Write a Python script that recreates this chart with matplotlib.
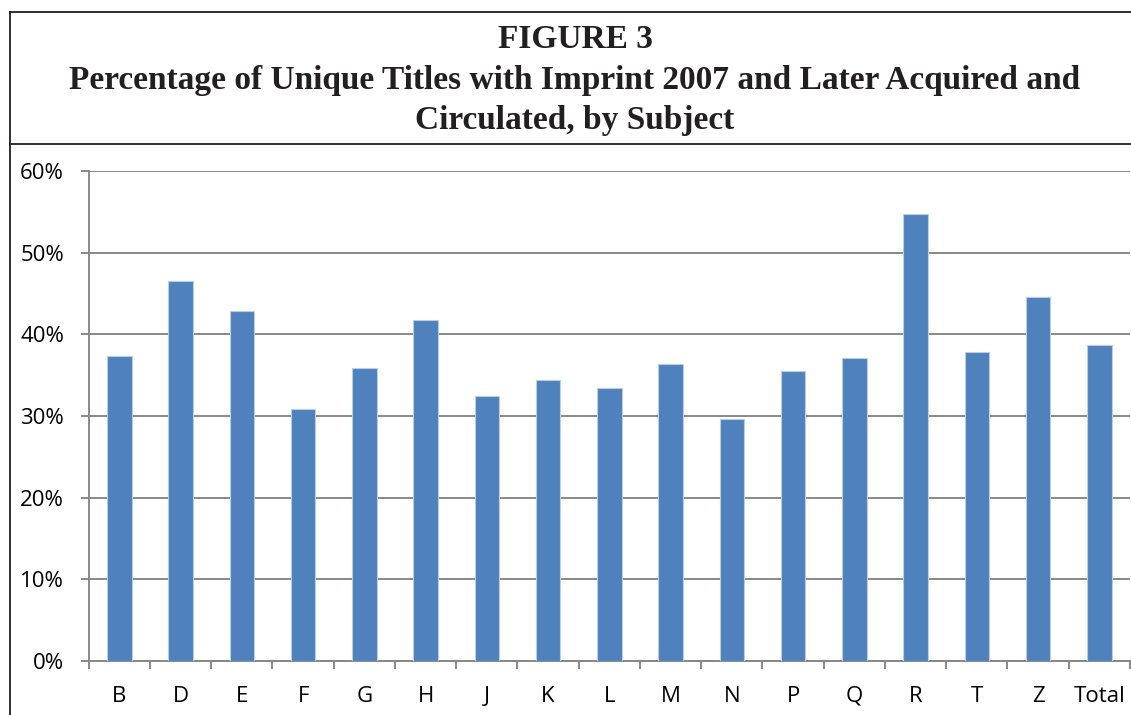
import matplotlib.pyplot as plt
import numpy as np
from matplotlib.lines import Line2D
from matplotlib.ticker import PercentFormatter

# data
subjects = ['B', 'D', 'E', 'F', 'G', 'H', 'J', 'K', 'L', 'M', 'N', 'P', 'Q', 'R', 'T', 'Z', 'Total']
pct = [37.3, 46.5, 42.9, 30.8, 35.9, 41.7, 32.4, 34.4, 33.4, 36.3, 29.6, 35.5, 37.1, 54.7, 37.8, 44.6, 38.7]
y_ticks = [0, 10, 20, 30, 40, 50, 60]

title_lines = ['FIGURE 3',
               'Percentage of Unique Titles with Imprint 2007 and Later Acquired and',
               'Circulated, by Subject']

W, H = 1131, 715
fig = plt.figure(figsize=(W / 100, H / 100), dpi=100)
fig.patch.set_facecolor('white')

# frame around the title block
frame = '#231f20'
fig.add_artist(Line2D([10 / W, 1], [1 - 12 / H, 1 - 12 / H], color=frame, lw=1.3))
fig.add_artist(Line2D([10 / W, 1], [1 - 144 / H, 1 - 144 / H], color=frame, lw=1.3))
fig.add_artist(Line2D([10 / W, 10 / W], [0, 1 - 12 / H], color=frame, lw=1.3))

# title
for txt, ypix in zip(title_lines, [40, 81, 121]):
    fig.text(575 / W, 1 - ypix / H, txt, ha='center', va='center',
             family='Liberation Serif', weight='bold', fontsize=24, color='#231f20')

# chart area
ax = fig.add_axes([88.7 / W, 1 - 660.8 / H, (1130 - 88.7) / W, (660.8 - 171) / H])
x = np.arange(len(subjects))
ax.bar(x, pct, width=0.4, color='#4f81bd', edgecolor='#b9cde5', linewidth=0.8, zorder=3)

ax.set_xlim(-0.5, len(subjects) - 0.5)
ax.set_ylim(0, 60)
ax.set_yticks(y_ticks)
ax.yaxis.set_major_formatter(PercentFormatter(decimals=0))
ax.grid(axis='y', color='#888888', lw=1.4, zorder=0)
ax.set_axisbelow(True)

ax.set_xticks(x)
ax.set_xticklabels(subjects)
ax.set_xticks(np.arange(-0.5, len(subjects), 1), minor=True)
ax.tick_params(axis='x', which='major', length=0, pad=18)
ax.tick_params(axis='x', which='minor', length=5.8, width=1.4, color='#888888')
ax.tick_params(axis='y', length=5.8, width=1.4, color='#888888', pad=12)
ax.tick_params(labelsize=16, labelcolor='black')
for lab in ax.get_xticklabels() + ax.get_yticklabels():
    lab.set_family('Open Sans')

for s in ['top', 'right']:
    ax.spines[s].set_visible(False)
for s in ['left', 'bottom']:
    ax.spines[s].set_color('#888888')
    ax.spines[s].set_linewidth(1.4)

plt.savefig('out.png', dpi=100)
